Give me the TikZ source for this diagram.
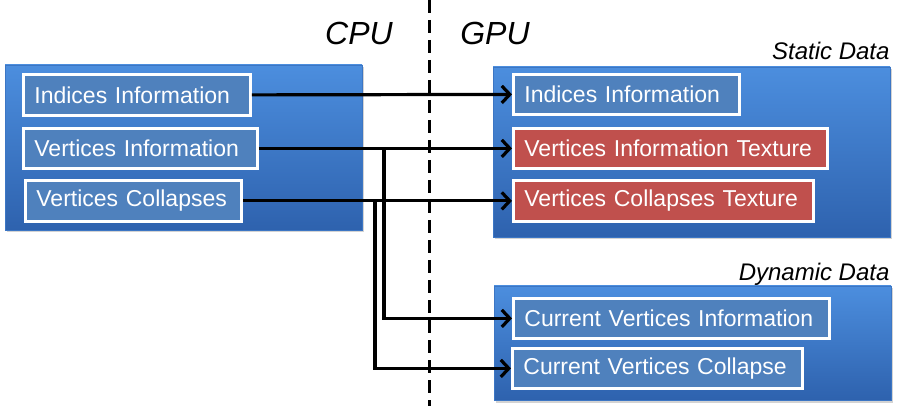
\documentclass[tikz,border=0pt]{standalone}
\usepackage{fontspec}
\setmainfont{Liberation Sans}
\usetikzlibrary{arrows.meta,shadows}

\definecolor{outtop}{RGB}{76,142,222}
\definecolor{outbot}{RGB}{46,98,174}
\definecolor{outedge}{RGB}{60,118,196}
\definecolor{inblue}{RGB}{79,129,189}
\definecolor{inred}{RGB}{192,80,77}

\tikzset{
  panel/.style={shading=axis, top color=outtop, bottom color=outbot,
    draw=outedge, line width=0.8pt,
    drop shadow={opacity=0.35, shadow xshift=1.5pt, shadow yshift=-2.5pt}},
  itembox/.style={draw=white, line width=2.8pt, fill=inblue, text=white,
    anchor=north west, inner xsep=11pt, inner ysep=0pt, align=left,
    font=\fontsize{23}{26}\selectfont,
    drop shadow={opacity=0.25, shadow xshift=1pt, shadow yshift=-1.5pt}},
  texbox/.style={itembox, fill=inred},
  flow/.style={line width=3.2pt, -{Straight Barb[length=8pt,width=17pt]}},
  divider/.style={line width=3pt, dash pattern=on 13pt off 7pt},
  unitlabel/.style={font=\fontsize{32}{36}\selectfont\itshape},
  arealabel/.style={font=\fontsize{24}{27}\selectfont\itshape, anchor=base east}
}

\begin{document}
\begin{tikzpicture}[x=1pt,y=-1pt]
\useasboundingbox (0,0) rectangle (900,406);

% CPU / GPU separator
\coordinate (septop) at (429,0);
\coordinate (sepbot) at (429,406);
\draw[divider] (septop) -- (sepbot);

\node[unitlabel] (cpulbl) at (359,33) {CPU};
\node[unitlabel] (gpulbl) at (495,33) {GPU};

% container panels
\path[panel] (5,65) rectangle (362,230);
\path[panel] (493,67) rectangle (890,237);
\path[panel] (494,286) rectangle (891,400);

\node[arealabel] (staticlbl) at (893,60) {Static Data};
\node[arealabel] (dynlbl) at (893,280) {Dynamic Data};

% CPU side
\node[itembox, text width=205pt, minimum height=41pt] (ci) at (22,73) {Indices Information};
\node[itembox, text width=212pt, minimum height=40pt] (cv) at (22,127) {Vertices Information};
\node[itembox, text width=194pt, minimum height=41pt] (cc) at (24,179) {Vertices Collapses};

% GPU static data
\node[itembox, text width=204pt, minimum height=40pt] (gi) at (512,73) {Indices Information};
\node[texbox, text width=292pt, minimum height=40pt] (gv) at (512,127) {Vertices Information Texture};
\node[texbox, text width=278pt, minimum height=41pt] (gc) at (512,179) {Vertices Collapses Texture};

% GPU dynamic data
\node[itembox, text width=294pt, minimum height=40pt] (dv) at (512,297) {Current Vertices Information};
\node[itembox, text width=268pt, minimum height=40pt] (dc) at (511,347) {Current Vertices Collapse};

% transfers
\draw[flow] (ci.east) -- (gi.west);
\draw[flow] (cv.east) -- (gv.west);
\draw[flow] (cc.east) -- (gc.west);

\coordinate (forkv) at (384,0);
\coordinate (forkc) at (375,0);
\draw[flow] (cv.east -| forkv) |- (dv.west);
\draw[flow] (cc.east -| forkc) |- (dc.west);
\end{tikzpicture}
\end{document}
